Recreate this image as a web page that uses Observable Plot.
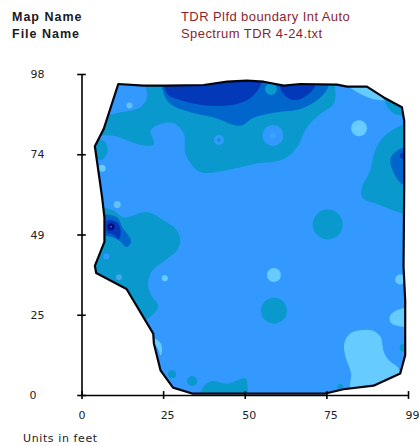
<!DOCTYPE html>
<html>
<head>
<meta charset="utf-8">
<script src="https://cdn.jsdelivr.net/npm/d3@7"></script>
<script src="https://cdn.jsdelivr.net/npm/@observablehq/plot@0.6"></script>
<style>
html,body{margin:0;padding:0;background:#fff;overflow:hidden}
#head{position:relative;height:60px;font:12px "Liberation Sans",sans-serif}
#head div{position:absolute;white-space:nowrap}
.k{left:12px;font-weight:bold;color:#1a1a22;font-size:12.5px;letter-spacing:1px}
.v{left:181px;color:#8a1f2e;font-size:13px;letter-spacing:.42px}
#cap{font:11px "DejaVu Sans",sans-serif;letter-spacing:.6px;color:#222;padding:7px 0 0 23px;line-height:14px}
svg{display:block}
</style>
</head>
<body>
<div id="head">
<div class="k" style="top:10px">Map Name</div>
<div class="k" style="top:27px">File Name</div>
<div class="v" style="top:9px">TDR Plfd boundary Int Auto</div>
<div class="v" style="top:26px">Spectrum TDR 4-24.txt</div>
</div>
<div id="chart"></div>
<div id="cap">Units in feet</div>
<script>
const xTickValues=[0,24.75,49.5,74.25,99];
const xTickLabels=["0","25","50","75","99"];
const yTickValues=[0,24.5,49,73.5,98];
const yTickLabels=["0","25","49","74","98"];

const BASE="#3399ff",TEAL="#0a99cc",MID="#0066cc",DARK="#0338b8",NAVY="#000a80",LIGHT="#66ccff";

const boundary=[[11,95.1],[18.7,94.6],[25.8,94.6],[36.9,94.8],[44,95.8],[50,96.1],[55.1,95.8],[61.2,94.6],[66.2,95.1],[77.3,94.9],[80.4,94.3],[86.4,94.3],[91.5,91],[97,88],[97.7,83.9],[97.7,64.4],[97.5,39.3],[98,29.1],[98,12.3],[96.5,6.7],[88.4,3],[79.3,1.9],[73.8,.6],[33.4,.6],[27.6,2.4],[23.8,7.7],[21.8,15.9],[21.6,18.9],[13.5,32.5],[4.3,37.4],[3.9,39.6],[6.8,46.9],[6.8,54.4],[6.1,60.5],[3.9,76.1],[6.6,81.4]];
const frameRing=[[11,95.1],[11,108],[-12,108],[-12,-10],[112,-10],[112,108],[11,108]];

const tealTop=[[19.7,98],[19.7,91.1],[17.7,88],[9.6,86],[3.6,83.9],[3.6,79.9],[9.6,79.3],[18.7,76.3],[21.8,76.8],[20.8,80.9],[23.8,82.9],[27.8,83.1],[30.9,79.9],[31.4,73.8],[34.9,68.7],[37.9,67.9],[46,69.2],[52.1,70.7],[61.2,72.2],[65.2,75.8],[68.2,81.9],[72.3,86],[76.3,89],[76.8,93.1],[75.3,98]];
const midTop=[[24.8,98],[24.8,92.1],[26.8,89],[32.9,86.5],[40,84.9],[48,82.4],[52.1,84.9],[59.1,86.5],[66.2,87.5],[72.3,91],[74.8,94.6],[74.8,98]];
const darkTopA=[[25.5,98],[25.8,92.1],[29.8,90.2],[37.9,88.5],[46,88.8],[50.6,90.5],[54.1,94.6],[54.6,98]];
const darkTopB=[[60.1,98],[60.7,92.6],[64.2,90.2],[68.2,91.6],[71,95.1],[71,98]];
const tealRight=[[101,82.9],[92.5,79.9],[88.9,74.8],[87.4,68.7],[84.9,63.6],[84.9,60.5],[89.4,58.5],[101,56]];
const midRight=[[101,76.3],[96.5,75.3],[93.7,72.7],[94,69.2],[97,64.6],[101,63.6]];
const tealCorner=[[92,90],[94,86.5],[98,85.5],[100,88],[95,92]];
const lightTop=[[80.9,94.6],[85.4,91.6],[89.4,90.3],[91.5,90.3],[88.4,93.9]];
const tealLeftTop=[[6.6,77.8],[7.8,74.8],[6.1,72],[4,72.7],[3.6,77.8]];
const tealLeft=[[5.6,57.5],[9.6,56.5],[12.7,54.4],[19.7,56],[24.8,53.4],[28.8,50.4],[29.8,47.3],[28.8,44.3],[25.8,41.7],[21.3,38.1],[20,34.1],[20.8,31],[23.1,27],[18.2,22.9],[13.7,29],[1,34],[1,57.5]];
const midLeft=[[6.1,54.9],[10.6,54.4],[12.2,51.4],[14.9,47.1],[13.5,45.3],[11.5,47.1],[9.1,48.3],[6.1,49.3]];
const darkLeft=[[7.6,53.4],[10.6,52.9],[11.7,50.4],[11.2,47.8],[9.1,49.3],[7.6,49.8]];
const lightRight=[[101,26.6],[95.5,26],[93.3,24],[94,21.9],[101,21.4]];
const lightBlob=[[79.5,15.9],[81.3,18.9],[84.4,19.9],[87.9,19.9],[90.5,17.9],[91.5,13.3],[93,10.8],[96,8.2],[96,5.6],[89.4,2],[81.6,2],[81.6,6.7],[79.9,11.8]];
const lightLower=[[21.9,17.4],[23.6,16.3],[24.3,14.2],[23.8,12.2],[22.8,14.7],[20,17]];
const tealBottom=[[35.9,1],[37.1,3],[39.5,4.4],[44,3.6],[49.5,5.2],[50.2,2.5],[49.8,-1],[35,-1]];

const layers=[
 [tealTop,TEAL],[midTop,MID],[darkTopA,DARK],[darkTopB,DARK],
 [tealRight,TEAL],[midRight,MID],[tealCorner,TEAL],[lightTop,LIGHT],
 [tealLeftTop,TEAL],[tealLeft,TEAL],[midLeft,MID],[darkLeft,DARK],
 [lightRight,LIGHT],[lightBlob,LIGHT],[lightLower,LIGHT],[tealBottom,TEAL]
];

const spotX=[57.3,57.9,57.9,41.5,41.5,84,84,14.4,6.1,10.7,74.5,97.3,8.8,8.8,7.4,11.2,25.1,58.2,58.2,96.5,97.5,27.3,33.4,78.3];
const spotY=[93.6,79.4,79.4,78,78,81.6,81.6,88.5,69.4,58.3,52.2,73.2,51.5,51.5,42.4,36.1,35.8,36.8,25.9,35.4,14.6,6.5,4.4,2.6];
const spotR=[6,10.5,3,5,2,8,3,3,3.5,3.5,15,3,3.5,1,3,3,3,7,13,5,4,4,5,3];
const spotC=[TEAL,BASE,"#3fa0ff",BASE,TEAL,LIGHT,"#6ccdff","#66c0f0",LIGHT,"#66c0f0",TEAL,DARK,NAVY,"#3060d0",BASE,"#40a8e8",LIGHT,LIGHT,TEAL,LIGHT,TEAL,TEAL,TEAL,TEAL];
const spots=spotX.map((x,i)=>({x,y:spotY[i],r:spotR[i],c:spotC[i]}));

const polyMark=(pts,fill,curve)=>Plot.line(pts,{x:d=>d[0],y:d=>d[1],fill,stroke:"none",curve});
const xAxis=(idx,dx)=>Plot.axisX({ticks:idx.map(i=>xTickValues[i]),tickFormat:d=>xTickLabels[xTickValues.indexOf(d)],tickSize:0,tickPadding:16,dx,anchor:"bottom",fontSize:11,fontFamily:"DejaVu Sans",label:null,fill:"#222"});
const yAxis=(idx,pad)=>Plot.axisY({ticks:idx.map(i=>yTickValues[i]),tickFormat:d=>yTickLabels[yTickValues.indexOf(d)],tickSize:0,tickPadding:pad,anchor:"left",fontSize:11,fontFamily:"DejaVu Sans",label:null,fill:"#222"});

const plot=Plot.plot({
 width:419,height:365,
 marginLeft:81.5,marginRight:11,marginTop:14,marginBottom:30,
 x:{type:"linear",domain:[0,99],axis:null},
 y:{type:"linear",domain:[0,98],axis:null},
 r:{type:"identity"},
 marks:[
  polyMark(boundary,BASE,"linear-closed"),
  ...layers.map(([p,c])=>polyMark(p,c,"catmull-rom-closed")),
  Plot.dot(spots,{x:"x",y:"y",r:"r",fill:"c",stroke:"none"}),
  polyMark([...boundary,...frameRing],"#fff","linear-closed"),
  Plot.line(boundary,{x:d=>d[0],y:d=>d[1],stroke:"#05050f",strokeWidth:2.2,curve:"linear-closed"}),
  Plot.ruleX([0],{y1:0,y2:98,stroke:"#000",strokeWidth:1.6}),
  Plot.ruleY([0],{x1:0,x2:99,stroke:"#000",strokeWidth:1.6}),
  Plot.ruleX(xTickValues,{y1:-1.2,y2:1.2,stroke:"#000",strokeWidth:1.6}),
  Plot.ruleY(yTickValues,{x1:-1.3,x2:1.3,stroke:"#000",strokeWidth:1.6}),
  xAxis([0],0),
  xAxis([1,2,3,4],4),
  yAxis([0],45.5),
  yAxis([1,2,3,4],37.5)
 ]
});
document.getElementById("chart").appendChild(plot);
</script>
</body>
</html>
